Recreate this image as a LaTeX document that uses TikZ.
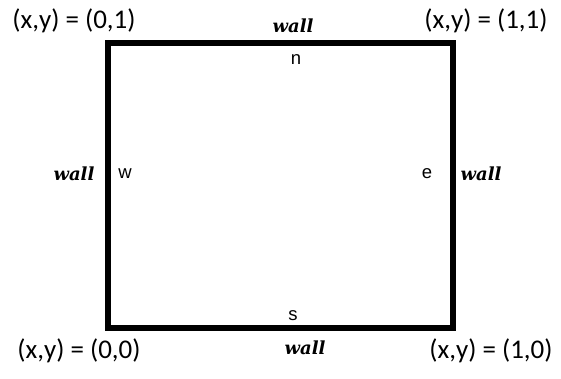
\documentclass[tikz,border=0pt]{standalone}
\usepackage{fontspec}
\newfontfamily\corner{Carlito}
\newfontfamily\wallf{DejaVu Serif}
\newfontfamily\dirf{Liberation Sans}
\begin{document}
\begin{tikzpicture}[x=1pt,y=-1pt,
  cornerlbl/.style={font=\corner\fontsize{27}{30}\selectfont, inner sep=0pt},
  walllbl/.style={font=\wallf\bfseries\itshape\fontsize{18}{22}\selectfont, inner sep=0pt},
  dirlbl/.style={font=\dirf\fontsize{18.5}{22}\selectfont, inner sep=0pt}]
\useasboundingbox (0,0) rectangle (561,378);
\coordinate (bl) at (108,328);
\coordinate (tr) at (453,43);
\draw[line width=5.5pt] (bl) rectangle (tr);
\node[cornerlbl] (c01) at (74,21) {(x,y) = (0,1)};
\node[cornerlbl] (c11) at (486,21) {(x,y) = (1,1)};
\node[cornerlbl] (c00) at (79,351) {(x,y) = (0,0)};
\node[cornerlbl] (c10) at (491,351) {(x,y) = (1,0)};
\node[walllbl] (wt) at (293,26) {wall};
\node[walllbl] (wb) at (305,348) {wall};
\node[walllbl] (wl) at (74,174) {wall};
\node[walllbl] (wr) at (481,174) {wall};
\node[dirlbl] (n) at (296,60) {n};
\node[dirlbl] (w) at (125,174) {w};
\node[dirlbl] (e) at (427,174) {e};
\node[dirlbl] (s) at (293,316) {s};
\end{tikzpicture}
\end{document}
